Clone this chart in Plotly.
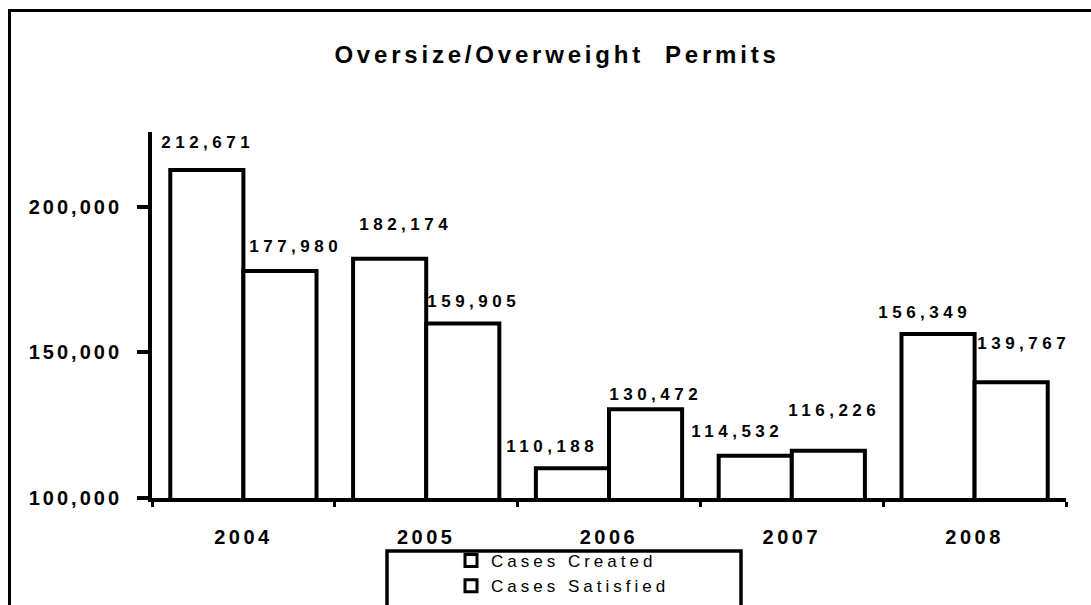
import plotly.graph_objects as go

years = ["2004", "2005", "2006", "2007", "2008"]
cases_created = [212671, 182174, 110188, 114532, 156349]
cases_satisfied = [177980, 159905, 130472, 116226, 139767]
series_names = ["Cases Created", "Cases Satisfied"]
y_ticks = [100000, 150000, 200000]
title_text = "Oversize/Overweight  Permits"

# label placement offsets (pixels) relative to bar top-centre, as in the original
created_label_offsets = [(1, 27), (16, 34), (-20, 22), (-18, 24), (-14, 21)]
satisfied_label_offsets = [(16, 24), (11, 22), (10, 15), (6, 40), (12, 39)]

W, H = 1091, 605
L, R, T, B = 152, 25, 132, 107
plot_w = W - L - R
plot_h = H - T - B
bargap = 0.2
cat_w = plot_w / len(years)
bar_half = (1 - bargap) * cat_w / 4

FONT = "Arial, Liberation Sans, sans-serif"
bar_style = dict(color="white", line=dict(color="black", width=4))

fig = go.Figure()
fig.add_trace(go.Bar(x=years, y=cases_created, name=series_names[0], marker=bar_style))
fig.add_trace(go.Bar(x=years, y=cases_satisfied, name=series_names[1], marker=bar_style))

annotations = []
for vals, offs, sign in ((cases_created, created_label_offsets, -1),
                         (cases_satisfied, satisfied_label_offsets, 1)):
    for i, (v, (dx, dy)) in enumerate(zip(vals, offs)):
        annotations.append(dict(
            x=i, y=v, xref="x", yref="y", text=f"{v:,}", showarrow=False,
            xanchor="center", yanchor="middle",
            xshift=sign * bar_half + dx, yshift=dy,
            font=dict(family=FONT, size=17, color="black", weight="bold"),
        ))

def px_x(p):
    return (p - L) / plot_w

def px_y(p):
    return (H - B - p) / plot_h

shapes = [
    # outer chart frame
    dict(type="rect", xref="paper", yref="paper",
         x0=px_x(9.5), x1=px_x(1100), y0=px_y(615), y1=px_y(10.5),
         line=dict(color="black", width=3), fillcolor="rgba(0,0,0,0)", layer="below"),
    # legend frame
    dict(type="rect", xref="paper", yref="paper",
         x0=px_x(387), x1=px_x(741), y0=px_y(607), y1=px_y(551),
         line=dict(color="black", width=3.5), fillcolor="rgba(0,0,0,0)"),
]

fig.update_layout(
    width=W, height=H,
    margin=dict(l=L, r=R, t=T, b=B, autoexpand=False),
    paper_bgcolor="white", plot_bgcolor="white",
    barmode="group", bargap=bargap, bargroupgap=0,
    title=dict(text=title_text, x=557 / W, y=1 - 55 / H, xanchor="center", yanchor="middle",
               xref="container", yref="container",
               font=dict(family=FONT, size=24, color="black", weight="bold")),
    showlegend=True,
    legend=dict(x=px_x(451), y=px_y(543), xanchor="left", yanchor="top",
                orientation="v", bgcolor="rgba(0,0,0,0)", borderwidth=0,
                font=dict(family=FONT, size=17, color="black"),
                tracegroupgap=0, itemwidth=30),
    annotations=annotations,
    shapes=shapes,
)
fig.update_xaxes(
    type="category", range=[-0.5, len(years) - 0.5],
    showline=True, linecolor="black", linewidth=4,
    ticks="outside", ticklen=5, tickwidth=3, tickcolor="black", tickson="boundaries",
    ticklabelstandoff=18,
    tickfont=dict(family=FONT, size=20, color="black", weight="bold"),
    showgrid=False, zeroline=False,
)
fig.update_yaxes(
    range=[100000, 225700], tickvals=y_ticks, tickformat=",",
    showline=True, linecolor="black", linewidth=4,
    ticks="outside", ticklen=11, tickwidth=4, tickcolor="black",
    ticklabelstandoff=11,
    tickfont=dict(family=FONT, size=20, color="black", weight="bold"),
    showgrid=False, zeroline=False,
)

post = """
var s=document.createElement('style');
s.textContent='html,body{margin:0;padding:0}.gtitle{letter-spacing:3.8px}.ytick text{letter-spacing:3px}.xtick text{letter-spacing:3.5px}.annotation-text{letter-spacing:4.5px}.legendtext{letter-spacing:4px}.legend,.legend g{clip-path:none !important}.legend .legendpoints path{stroke-width:3px !important}';
document.head.appendChild(s);
"""
fig.write_html("out.html", post_script=post, config={"displayModeBar": False})
